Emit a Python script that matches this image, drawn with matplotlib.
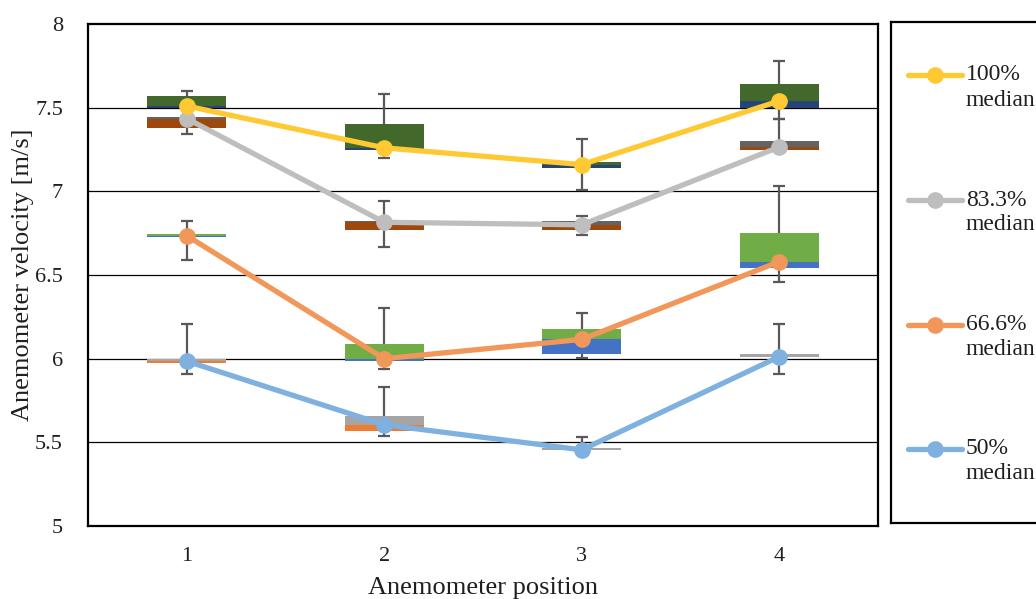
import matplotlib
matplotlib.use("Agg")
import matplotlib.pyplot as plt
import numpy as np

# Anemometer positions
positions = [1, 2, 3, 4]
labels = ["100%\nmedian", "83.3%\nmedian", "66.6%\nmedian", "50%\nmedian"]

# 100% series: whisker low, Q1, median, Q3, whisker high
lo_100 = [7.45, 7.20, 7.01, 7.43]
q1_100 = [7.50, 7.245, 7.14, 7.50]
med_100 = [7.51, 7.26, 7.16, 7.54]
q3_100 = [7.57, 7.40, 7.175, 7.64]
hi_100 = [7.60, 7.58, 7.31, 7.78]

# 83.3% series
lo_833 = [7.34, 6.67, 6.74, 7.245]
q1_833 = [7.38, 6.77, 6.77, 7.245]
med_833 = [7.435, 6.815, 6.80, 7.265]
q3_833 = [7.445, 6.82, 6.82, 7.30]
hi_833 = [7.445, 6.94, 6.85, 7.43]

# 66.6% series
lo_666 = [6.59, 5.94, 6.005, 6.46]
q1_666 = [6.725, 5.985, 6.03, 6.54]
med_666 = [6.735, 6.00, 6.115, 6.58]
q3_666 = [6.745, 6.09, 6.18, 6.75]
hi_666 = [6.82, 6.30, 6.27, 7.03]

# 50% series
lo_50 = [5.91, 5.54, 5.45, 5.91]
q1_50 = [5.975, 5.57, 5.455, 6.012]
med_50 = [5.985, 5.605, 5.455, 6.012]
q3_50 = [6.00, 5.66, 5.465, 6.025]
hi_50 = [6.21, 5.83, 5.53, 6.21]

yticks = [5, 5.5, 6, 6.5, 7, 7.5, 8]
ytick_labels = ["5", "5.5", "6", "6.5", "7", "7.5", "8"]

series = [
    dict(lo=lo_100, q1=q1_100, med=med_100, q3=q3_100, hi=hi_100,
         low_c="#264478", up_c="#43682B", line_c="#FFC933"),
    dict(lo=lo_833, q1=q1_833, med=med_833, q3=q3_833, hi=hi_833,
         low_c="#9E480E", up_c="#636363", line_c="#BEBEBE"),
    dict(lo=lo_666, q1=q1_666, med=med_666, q3=q3_666, hi=hi_666,
         low_c="#4472C4", up_c="#70AD47", line_c="#F1975A"),
    dict(lo=lo_50, q1=q1_50, med=med_50, q3=q3_50, hi=hi_50,
         low_c="#ED7D31", up_c="#A5A5A5", line_c="#7EB1E0"),
]

plt.rcParams['font.family'] = ['Liberation Serif', 'DejaVu Serif']
text_c = "#1f1f1f"

W, H = 1036, 599
fig = plt.figure(figsize=(W / 100, H / 100), dpi=100)
ax = fig.add_axes([88 / W, (H - 526) / H, 790 / W, 502 / H])

ax.set_xlim(0.5, 4.5)
ax.set_ylim(5, 8)

# horizontal gridlines
for y in yticks[1:-1]:
    ax.axhline(y, color="black", lw=0.9, zorder=0.5)

bw = 0.4
cap = 0.03
wc = "#595959"
pos = np.array(positions, dtype=float)
for s in series:
    lo, q1, med, q3, hi = (np.array(s[k]) for k in ("lo", "q1", "med", "q3", "hi"))
    # whiskers with end caps only at the far ends
    ax.vlines(pos, q3, hi, color=wc, lw=1.6, zorder=1)
    ax.vlines(pos, lo, q1, color=wc, lw=1.6, zorder=1)
    for x, a, b in zip(pos, hi, q3):
        if a > b:
            ax.hlines(a, x - cap, x + cap, color=wc, lw=1.6, zorder=1)
    for x, a, b in zip(pos, lo, q1):
        if a < b:
            ax.hlines(a, x - cap, x + cap, color=wc, lw=1.6, zorder=1)
    # box halves
    ax.bar(pos, med - q1, bottom=q1, width=bw, color=s["low_c"], zorder=2)
    ax.bar(pos, q3 - med, bottom=med, width=bw, color=s["up_c"], zorder=2)

for s in reversed(series):
    ax.plot(pos, s["med"], color=s["line_c"], lw=3.8, marker="o", ms=11,
            solid_capstyle="round", zorder=3)

ax.set_yticks(yticks)
ax.set_yticklabels(ytick_labels)
ax.set_xticks(positions)
ax.set_xticklabels([str(p) for p in positions])
ax.tick_params(axis="y", length=0, pad=18, labelsize=16, colors=text_c)
ax.tick_params(axis="x", length=0, pad=15, labelsize=16, colors=text_c)
for sp in ax.spines.values():
    sp.set_linewidth(1.6)
    sp.set_color("black")

ax.set_ylabel("Anemometer velocity [m/s]", fontsize=19, color=text_c, labelpad=1)
ax.set_xlabel("Anemometer position", fontsize=19, color=text_c, labelpad=8)

# legend panel (extends past the right edge)
lax = fig.add_axes([891 / W, (H - 523) / H, 220 / W, 501 / H])
lax.set_xlim(0, 220)
lax.set_ylim(501, 0)
lax.set_xticks([])
lax.set_yticks([])
for sp in lax.spines.values():
    sp.set_linewidth(1.6)
    sp.set_color("black")

entry_y = [53, 178, 303, 427]
for s, lab, yy in zip(series, labels, entry_y):
    lax.plot([17, 71], [yy, yy], color=s["line_c"], lw=3.8, solid_capstyle="round")
    lax.plot([44], [yy], color=s["line_c"], marker="o", ms=11)
    first, second = lab.split("\n")
    lax.text(75, yy, first, fontsize=17, va="center", ha="left", color=text_c)
    lax.text(75, yy + 25, second, fontsize=17, va="center", ha="left", color=text_c)

fig.savefig("out.png", dpi=100)
